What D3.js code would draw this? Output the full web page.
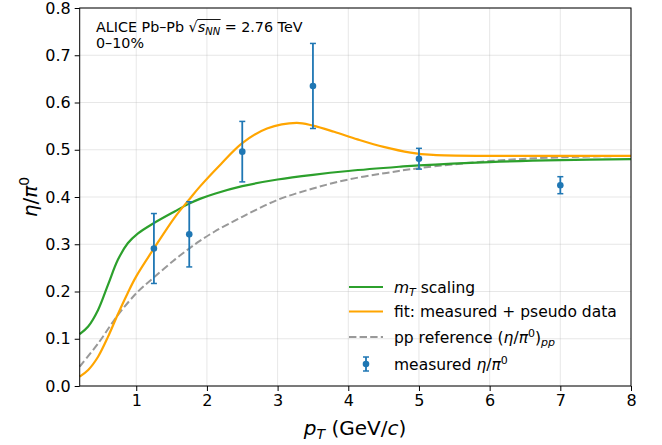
<!DOCTYPE html>
<html>
<head>
<meta charset="utf-8">
<script src="https://cdn.jsdelivr.net/npm/d3@7"></script>
<style>
  body { margin: 0; background: #fff; }
  svg { font-family: "DejaVu Sans", sans-serif; }
</style>
</head>
<body>
<div id="chart"></div>
<script>
  'use strict';

  // measured eta/pi0
  var dataPt = [1.25, 1.75, 2.5, 3.5, 5.0, 7.0];
  var dataVal = [0.291, 0.321, 0.496, 0.635, 0.481, 0.425];
  var dataErr = [0.074, 0.069, 0.064, 0.090, 0.022, 0.018];

  // mT scaling curve
  var mtPt = [0.2, 0.32, 0.46, 0.6, 0.74, 0.88, 1.025, 1.24, 1.55, 1.75, 1.9, 2.11, 2.5, 3.0, 3.5, 4.0, 4.72, 5.0, 6.0, 7.0, 8.0];
  var mtVal = [0.110, 0.126, 0.161, 0.214, 0.267, 0.302, 0.323, 0.344, 0.370, 0.386, 0.396, 0.407, 0.423, 0.437, 0.447, 0.455, 0.464, 0.467, 0.474, 0.478, 0.480];

  // fit: measured + pseudo data
  var fitPt = [0.2, 0.32, 0.46, 0.6, 0.74, 0.88, 1.0, 1.25, 1.55, 1.75, 1.9, 2.2, 2.5, 2.85, 3.27, 3.5, 3.8, 4.13, 4.5, 4.88, 5.2, 6.0, 7.0, 8.0];
  var fitVal = [0.020, 0.034, 0.062, 0.104, 0.152, 0.197, 0.232, 0.291, 0.358, 0.395, 0.422, 0.470, 0.514, 0.545, 0.557, 0.551, 0.538, 0.522, 0.506, 0.494, 0.489, 0.487, 0.487, 0.487];

  // pp reference
  var ppPt = [0.2, 0.46, 0.74, 1.025, 1.26, 1.55, 1.75, 1.9, 2.11, 2.5, 3.0, 3.5, 4.0, 4.54, 5.0, 6.0, 7.0, 8.0];
  var ppVal = [0.041, 0.090, 0.150, 0.200, 0.231, 0.268, 0.291, 0.307, 0.327, 0.358, 0.394, 0.418, 0.437, 0.451, 0.461, 0.476, 0.484, 0.487];

  var xTicks = [1, 2, 3, 4, 5, 6, 7, 8];
  var yTicks = [0.0, 0.1, 0.2, 0.3, 0.4, 0.5, 0.6, 0.7, 0.8];

  var w = 662, h = 445;
  var pLeft = 79.7, pRight = 631, pTop = 8, pBottom = 386;

  var svg = d3.select("#chart").append("svg")
    .attr("width", w)
    .attr("height", h);

  var x = d3.scaleLinear().domain([0.2, 8]).range([pLeft, pRight]);
  var y = d3.scaleLinear().domain([0, 0.8]).range([pBottom, pTop]);

  // grid
  var grid = svg.append("g").attr("class", "grid");
  grid.selectAll("line.vx").data(xTicks).enter().append("line")
    .attr("x1", function (d) { return x(d); })
    .attr("x2", function (d) { return x(d); })
    .attr("y1", pTop).attr("y2", pBottom)
    .attr("stroke", "#b0b0b0").attr("stroke-opacity", 0.3).attr("stroke-width", 1);
  grid.selectAll("line.hy").data(yTicks).enter().append("line")
    .attr("y1", function (d) { return y(d); })
    .attr("y2", function (d) { return y(d); })
    .attr("x1", pLeft).attr("x2", pRight)
    .attr("stroke", "#b0b0b0").attr("stroke-opacity", 0.3).attr("stroke-width", 1);

  // axes
  var xAxis = svg.append("g")
    .attr("transform", "translate(0," + pBottom + ")")
    .call(d3.axisBottom(x).tickValues(xTicks).tickFormat(d3.format("d")).tickSizeOuter(0).tickSize(5).tickPadding(4));
  var yAxis = svg.append("g")
    .attr("transform", "translate(" + pLeft + ",0)")
    .call(d3.axisLeft(y).tickValues(yTicks).tickFormat(d3.format(".1f")).tickSizeOuter(0).tickSize(5).tickPadding(4));
  [xAxis, yAxis].forEach(function (a) {
    a.select(".domain").remove();
    a.selectAll("text").attr("font-size", 16).attr("font-family", "DejaVu Sans").attr("fill", "#000");
    a.selectAll("line").attr("stroke", "#000");
  });

  // curves
  function makeLine(pts, vals) {
    return d3.line()
      .x(function (d) { return x(d); })
      .y(function (d, i) { return y(vals[i]); })
      .curve(d3.curveCatmullRom.alpha(0.5))(pts);
  }

  var plot = svg.append("g");
  plot.append("path")
    .attr("d", makeLine(ppPt, ppVal))
    .attr("fill", "none").attr("stroke", "#999999").attr("stroke-width", 2)
    .attr("stroke-dasharray", "7.4,3.2");
  plot.append("path")
    .attr("d", makeLine(mtPt, mtVal))
    .attr("fill", "none").attr("stroke", "#2ca02c").attr("stroke-width", 2.2);
  plot.append("path")
    .attr("d", makeLine(fitPt, fitVal))
    .attr("fill", "none").attr("stroke", "#ffa500").attr("stroke-width", 2.2);

  // error bars
  var pts = plot.selectAll("g.pt").data(dataPt).enter().append("g").attr("class", "pt");
  pts.append("line")
    .attr("x1", function (d) { return x(d); })
    .attr("x2", function (d) { return x(d); })
    .attr("y1", function (d, i) { return y(dataVal[i] - dataErr[i]); })
    .attr("y2", function (d, i) { return y(dataVal[i] + dataErr[i]); })
    .attr("stroke", "#1f77b4").attr("stroke-width", 1.8);
  [-1, 1].forEach(function (s) {
    pts.append("line")
      .attr("x1", function (d) { return x(d) - 3; })
      .attr("x2", function (d) { return x(d) + 3; })
      .attr("y1", function (d, i) { return y(dataVal[i] + s * dataErr[i]); })
      .attr("y2", function (d, i) { return y(dataVal[i] + s * dataErr[i]); })
      .attr("stroke", "#1f77b4").attr("stroke-width", 1.5);
  });
  pts.append("circle")
    .attr("cx", function (d) { return x(d); })
    .attr("cy", function (d, i) { return y(dataVal[i]); })
    .attr("r", 3.3)
    .attr("fill", "#1f77b4");

  // frame
  svg.append("rect")
    .attr("x", pLeft).attr("y", pTop)
    .attr("width", pRight - pLeft).attr("height", pBottom - pTop)
    .attr("fill", "none").attr("stroke", "#000").attr("stroke-width", 1);

  // axis labels
  var xl = svg.append("text")
    .attr("x", 355).attr("y", 435)
    .attr("text-anchor", "middle").attr("font-size", 20);
  xl.append("tspan").attr("font-style", "italic").text("p");
  xl.append("tspan").attr("font-style", "italic").attr("font-size", 14).attr("dy", 4).text("T");
  xl.append("tspan").attr("dy", -4).text(" (GeV/");
  xl.append("tspan").attr("font-style", "italic").text("c");
  xl.append("tspan").text(")");

  var yl = svg.append("text")
    .attr("transform", "translate(37," + ((pTop + pBottom) / 2) + ") rotate(-90)")
    .attr("text-anchor", "middle").attr("font-size", 20);
  yl.append("tspan").attr("font-style", "italic").text("η");
  yl.append("tspan").text("/");
  yl.append("tspan").attr("font-style", "italic").text("π");
  yl.append("tspan").attr("font-size", 14).attr("dy", -8).text("0");

  // annotation
  var ann = svg.append("text").attr("x", 96).attr("y", 32).attr("font-size", 14.3);
  ann.append("tspan").text("ALICE Pb–Pb ");
  ann.append("tspan").text("√");
  ann.append("tspan").attr("font-style", "italic").text("s");
  ann.append("tspan").attr("font-style", "italic").attr("font-size", 10).attr("dy", 3).text("NN");
  ann.append("tspan").attr("dy", -3).text(" = 2.76 TeV");
  svg.append("text").attr("x", 96).attr("y", 48).attr("font-size", 14.3).text("0–10%");
  // overline of the radical
  var node = ann.node();
  var startIdx = "ALICE Pb–Pb ".length;
  var rStart = node.getStartPositionOfChar(startIdx + 1);
  var rEnd = node.getEndPositionOfChar(startIdx + 3);
  svg.append("line")
    .attr("x1", rStart.x - 0.5).attr("x2", rEnd.x + 0.5)
    .attr("y1", 19.5).attr("y2", 19.5)
    .attr("stroke", "#000").attr("stroke-width", 0.9);

  // legend
  var legY = [287, 311.5, 337, 364];
  var lx1 = 349, lx2 = 383, ltx = 394;
  var lfs = 15.5;
  var leg = svg.append("g");
  leg.append("line").attr("x1", lx1).attr("x2", lx2).attr("y1", legY[0]).attr("y2", legY[0])
    .attr("stroke", "#2ca02c").attr("stroke-width", 2.2);
  leg.append("line").attr("x1", lx1).attr("x2", lx2).attr("y1", legY[1]).attr("y2", legY[1])
    .attr("stroke", "#ffa500").attr("stroke-width", 2.2);
  leg.append("line").attr("x1", lx1).attr("x2", lx2).attr("y1", legY[2]).attr("y2", legY[2])
    .attr("stroke", "#999999").attr("stroke-width", 2).attr("stroke-dasharray", "7.4,3.2");
  var lmx = (lx1 + lx2) / 2;
  leg.append("line").attr("x1", lmx).attr("x2", lmx).attr("y1", legY[3] - 7).attr("y2", legY[3] + 7)
    .attr("stroke", "#1f77b4").attr("stroke-width", 1.8);
  [-7, 7].forEach(function (o) {
    leg.append("line").attr("x1", lmx - 3).attr("x2", lmx + 3).attr("y1", legY[3] + o).attr("y2", legY[3] + o)
      .attr("stroke", "#1f77b4").attr("stroke-width", 1.5);
  });
  leg.append("circle").attr("cx", lmx).attr("cy", legY[3]).attr("r", 3.3).attr("fill", "#1f77b4");

  var t0 = leg.append("text").attr("x", ltx).attr("y", legY[0] + 5.5).attr("font-size", lfs);
  t0.append("tspan").attr("font-style", "italic").text("m");
  t0.append("tspan").attr("font-style", "italic").attr("font-size", 11).attr("dy", 3).text("T");
  t0.append("tspan").attr("dy", -3).text(" scaling");

  leg.append("text").attr("x", ltx).attr("y", legY[1] + 5.5).attr("font-size", lfs)
    .text("fit: measured + pseudo data");

  var t2 = leg.append("text").attr("x", ltx).attr("y", legY[2] + 5.5).attr("font-size", lfs);
  t2.append("tspan").text("pp reference (");
  t2.append("tspan").attr("font-style", "italic").text("η");
  t2.append("tspan").text("/");
  t2.append("tspan").attr("font-style", "italic").text("π");
  t2.append("tspan").attr("font-size", 11).attr("dy", -6).text("0");
  t2.append("tspan").attr("dy", 6).text(")");
  t2.append("tspan").attr("font-style", "italic").attr("font-size", 11).attr("dy", 3).text("pp");

  var t3 = leg.append("text").attr("x", ltx).attr("y", legY[3] + 5.5).attr("font-size", lfs);
  t3.append("tspan").text("measured ");
  t3.append("tspan").attr("font-style", "italic").text("η");
  t3.append("tspan").text("/");
  t3.append("tspan").attr("font-style", "italic").text("π");
  t3.append("tspan").attr("font-size", 11).attr("dy", -6).text("0");
</script>
</body>
</html>
